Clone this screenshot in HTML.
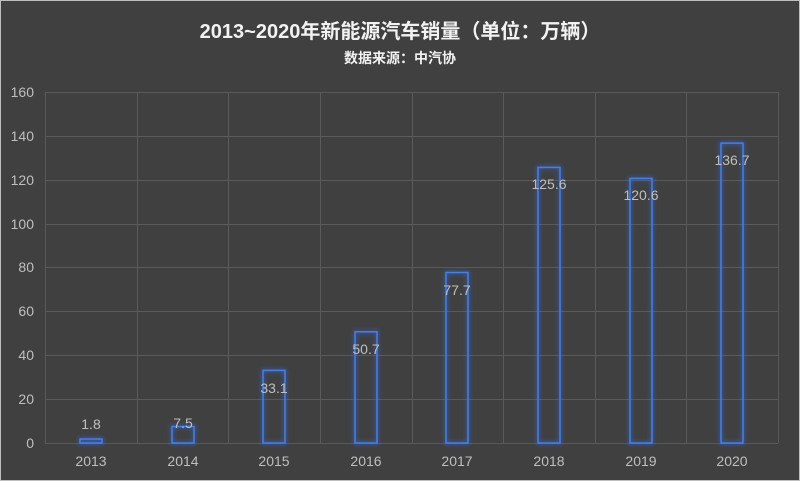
<!DOCTYPE html>
<html><head><meta charset="utf-8"><style>
body{margin:0;background:#404040}
svg{display:block}
text{font-family:"Liberation Sans","Noto Sans CJK SC",sans-serif}
</style></head><body>
<svg width="800" height="481" viewBox="0 0 800 481" xmlns="http://www.w3.org/2000/svg">
<defs><filter id="g" x="-50%" y="-50%" width="200%" height="200%"><feGaussianBlur stdDeviation="2.5"/></filter></defs>
<rect x="0.5" y="0.5" width="799" height="480" fill="#404040" stroke="#bfbfbf"/>
<text x="400" y="38" text-anchor="middle" font-size="20" font-weight="bold" fill="#f2f2f2">2013~2020年新能源汽车销量（单位：万辆）</text>
<text x="400" y="63" text-anchor="middle" font-size="14" font-weight="bold" fill="#f2f2f2">数据来源：中汽协</text>
<g stroke="#5a5a5a" stroke-width="1">
<line x1="45" y1="92.5" x2="778" y2="92.5"/><line x1="45" y1="136.5" x2="778" y2="136.5"/>
<line x1="45" y1="180.5" x2="778" y2="180.5"/><line x1="45" y1="224.5" x2="778" y2="224.5"/>
<line x1="45" y1="267.5" x2="778" y2="267.5"/><line x1="45" y1="311.5" x2="778" y2="311.5"/>
<line x1="45" y1="355.5" x2="778" y2="355.5"/><line x1="45" y1="399.5" x2="778" y2="399.5"/>
<line x1="45" y1="443.5" x2="778" y2="443.5"/>
<line x1="45.5" y1="92" x2="45.5" y2="443"/><line x1="137.5" y1="92" x2="137.5" y2="443"/>
<line x1="228.5" y1="92" x2="228.5" y2="443"/><line x1="320.5" y1="92" x2="320.5" y2="443"/>
<line x1="412.5" y1="92" x2="412.5" y2="443"/><line x1="503.5" y1="92" x2="503.5" y2="443"/>
<line x1="595.5" y1="92" x2="595.5" y2="443"/><line x1="686.5" y1="92" x2="686.5" y2="443"/>
<line x1="778.5" y1="92" x2="778.5" y2="443"/>
</g>
<g font-size="14" fill="#bfbfbf" text-anchor="end">
<text x="34" y="97">160</text><text x="34" y="141">140</text><text x="34" y="185">120</text>
<text x="34" y="229">100</text><text x="34" y="272">80</text><text x="34" y="316">60</text>
<text x="34" y="360">40</text><text x="34" y="404">20</text><text x="34" y="448">0</text>
</g>
<g font-size="14" fill="#bfbfbf" text-anchor="middle">
<text x="91" y="466">2013</text><text x="183" y="466">2014</text><text x="274" y="466">2015</text>
<text x="366" y="466">2016</text><text x="457" y="466">2017</text><text x="549" y="466">2018</text>
<text x="641" y="466">2019</text><text x="732" y="466">2020</text>
</g>
<g fill="none" stroke="#2f6fff" stroke-width="3" opacity="0.55" filter="url(#g)">
<rect x="80" y="439" width="22" height="4"/><rect x="172" y="426.5" width="22" height="16.5"/>
<rect x="263" y="370.4" width="22" height="72.6"/><rect x="355" y="331.8" width="22" height="111.2"/>
<rect x="446" y="272.5" width="22" height="170.5"/><rect x="538" y="167.4" width="22" height="275.6"/>
<rect x="630" y="178.4" width="22" height="264.6"/><rect x="721" y="143.1" width="22" height="299.9"/>
</g>
<g fill="none" stroke="#4a7fe0" stroke-width="1.5">
<rect x="80" y="439" width="22" height="4"/><rect x="172" y="426.5" width="22" height="16.5"/>
<rect x="263" y="370.4" width="22" height="72.6"/><rect x="355" y="331.8" width="22" height="111.2"/>
<rect x="446" y="272.5" width="22" height="170.5"/><rect x="538" y="167.4" width="22" height="275.6"/>
<rect x="630" y="178.4" width="22" height="264.6"/><rect x="721" y="143.1" width="22" height="299.9"/>
</g>
<g font-size="14" fill="#bfbfbf" text-anchor="middle">
<text x="91" y="429">1.8</text><text x="183" y="428">7.5</text><text x="274" y="393">33.1</text>
<text x="366" y="354">50.7</text><text x="457" y="295">77.7</text><text x="549" y="189">125.6</text>
<text x="641" y="200">120.6</text><text x="732" y="165">136.7</text>
</g>
</svg>
</body></html>
